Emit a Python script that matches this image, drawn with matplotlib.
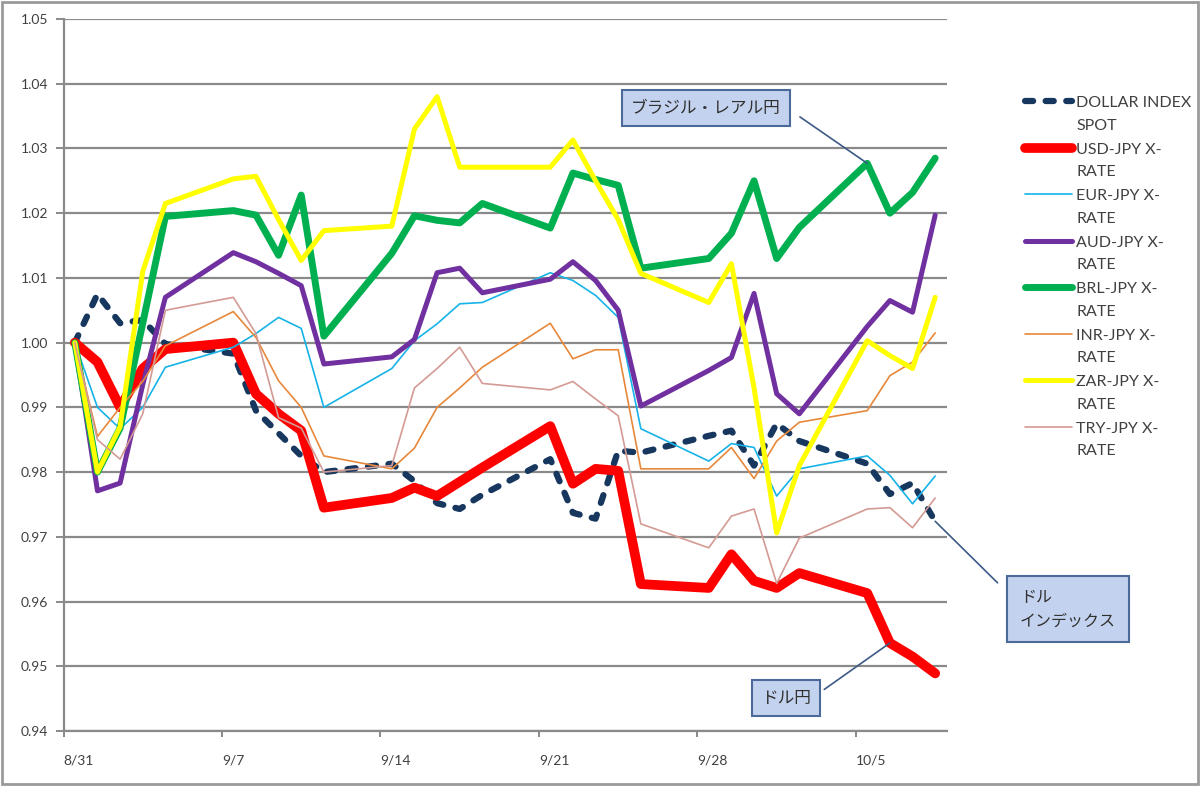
import matplotlib
matplotlib.use("Agg")
import matplotlib.pyplot as plt
import matplotlib.dates as mdates
from matplotlib.patches import Rectangle
from matplotlib.legend_handler import HandlerLine2D
import numpy as np

plt.rcParams['font.family'] = ['Lato', 'Noto Sans CJK JP', 'DejaVu Sans']

dates = ["2009-08-31", "2009-09-01", "2009-09-02", "2009-09-03", "2009-09-04",
         "2009-09-07", "2009-09-08", "2009-09-09", "2009-09-10", "2009-09-11",
         "2009-09-14", "2009-09-15", "2009-09-16", "2009-09-17", "2009-09-18",
         "2009-09-21", "2009-09-22", "2009-09-23", "2009-09-24", "2009-09-25",
         "2009-09-28", "2009-09-29", "2009-09-30", "2009-10-01", "2009-10-02",
         "2009-10-05", "2009-10-06", "2009-10-07", "2009-10-08"]

dollar_index = [1.000, 1.0075, 1.003, 1.0035, 0.9998, 0.9983, 0.9895, 0.986, 0.9825, 0.980,
                0.9813, 0.9786, 0.9752, 0.9743, 0.9765, 0.982, 0.9737, 0.9728, 0.9833, 0.983,
                0.9856, 0.9864, 0.981, 0.9875, 0.9848, 0.9813, 0.9766, 0.9783, 0.9724]
usd_jpy = [1.000, 0.997, 0.990, 0.996, 0.999, 1.000, 0.9921, 0.989, 0.9864, 0.9745,
           0.976, 0.9776, 0.9763, 0.9785, 0.9807, 0.9871, 0.9782, 0.9805, 0.9802, 0.9627,
           0.9621, 0.9673, 0.9632, 0.9621, 0.9644, 0.9613, 0.9536, 0.9515, 0.9489]
eur_jpy = [1.000, 0.990, 0.9867, 0.990, 0.9962, 0.9993, 1.0014, 1.0039, 1.0022, 0.990,
           0.996, 1.0003, 1.0029, 1.006, 1.0062, 1.0108, 1.0096, 1.0073, 1.0039, 0.9867,
           0.9817, 0.9844, 0.9838, 0.9763, 0.9805, 0.9825, 0.9795, 0.9751, 0.9794]
aud_jpy = [1.000, 0.9771, 0.9783, 0.9935, 1.007, 1.0139, 1.0125, 1.0107, 1.0088, 0.9967,
           0.9978, 1.0005, 1.0108, 1.0115, 1.0077, 1.0098, 1.0125, 1.0096, 1.005, 0.9902,
           0.9957, 0.9977, 1.0076, 0.9921, 0.989, 1.0025, 1.0065, 1.0047, 1.0197]
brl_jpy = [1.000, 0.980, 0.9868, 1.003, 1.0195, 1.0204, 1.0197, 1.0135, 1.0228, 1.001,
           1.0138, 1.0196, 1.0189, 1.0185, 1.0215, 1.0177, 1.0262, 1.0252, 1.0243, 1.0115,
           1.013, 1.0169, 1.025, 1.013, 1.0178, 1.0277, 1.020, 1.0232, 1.0285]
inr_jpy = [1.000, 0.9855, 0.990, 0.994, 0.9995, 1.0048, 1.0008, 0.9941, 0.990, 0.9825,
           0.9805, 0.9837, 0.990, 0.993, 0.9962, 1.003, 0.9975, 0.9989, 0.9989, 0.9805,
           0.9805, 0.9838, 0.979, 0.9848, 0.9877, 0.9895, 0.9949, 0.997, 1.0015]
zar_jpy = [1.000, 0.980, 0.987, 1.011, 1.0215, 1.0253, 1.0257, 1.019, 1.0127, 1.0173,
           1.018, 1.033, 1.038, 1.0271, 1.0271, 1.0271, 1.0313, 1.025, 1.019, 1.0107,
           1.0062, 1.0122, 0.993, 0.9706, 0.981, 1.0003, 0.998, 0.996, 1.007]
try_jpy = [1.000, 0.985, 0.982, 0.989, 1.005, 1.007, 1.0014, 0.9884, 0.9868, 0.980,
           0.981, 0.993, 0.996, 0.9993, 0.9937, 0.9927, 0.994, 0.9913, 0.9887, 0.972,
           0.9683, 0.9732, 0.9743, 0.9628, 0.9698, 0.9743, 0.9745, 0.9714, 0.976]

labels = ["DOLLAR INDEX\nSPOT", "USD-JPY X-\nRATE", "EUR-JPY X-\nRATE", "AUD-JPY X-\nRATE",
          "BRL-JPY X-\nRATE", "INR-JPY X-\nRATE", "ZAR-JPY X-\nRATE", "TRY-JPY X-\nRATE"]
tick_dates = ["2009-08-31", "2009-09-07", "2009-09-14", "2009-09-21", "2009-09-28", "2009-10-05"]
tick_labels = ["8/31", "9/7", "9/14", "9/21", "9/28", "10/5"]
y_ticks = [0.94, 0.95, 0.96, 0.97, 0.98, 0.99, 1.00, 1.01, 1.02, 1.03, 1.04, 1.05]

x = mdates.datestr2num(dates) + 0.5

fig = plt.figure(figsize=(12, 7.86), dpi=100)
fig.patch.set_facecolor('white')
ax = fig.add_axes([63.5 / 1200, 55 / 786, (946.5 - 63.5) / 1200, (731 - 19) / 786])

series = [
    (dollar_index, '#17375E', 4.5, 'dash'),
    (usd_jpy, '#FF0000', 7.0, None),
    (eur_jpy, '#17B3E8', 1.2, None),
    (aud_jpy, '#7030A0', 3.6, None),
    (brl_jpy, '#00B050', 5.0, None),
    (inr_jpy, '#E8883A', 1.2, None),
    (zar_jpy, '#FFFF00', 3.6, None),
    (try_jpy, '#D49A94', 1.2, None),
]
handles = []
for i, (vals, col, lw, st) in enumerate(series):
    if st == 'dash':
        ln, = ax.plot(x, vals, color=col, lw=lw, dashes=(1.3, 2.0),
                      dash_capstyle='round', solid_joinstyle='round', zorder=3 + i)
    else:
        ln, = ax.plot(x, vals, color=col, lw=lw, solid_joinstyle='round',
                      solid_capstyle='round', zorder=3 + i)
    handles.append(ln)

ax.set_xlim(mdates.datestr2num("2009-08-31"), mdates.datestr2num("2009-10-09"))
ax.set_ylim(0.94, 1.05)
ax.set_yticks(y_ticks)
ax.set_yticklabels([f"{v:.2f}" for v in y_ticks])
ax.set_xticks(mdates.datestr2num(tick_dates))
ax.set_xticklabels(tick_labels)
ax.grid(axis='y', color='#8A8A8A', lw=1.6, zorder=1)
ax.set_axisbelow(True)
for s in ['top', 'right']:
    ax.spines[s].set_visible(False)
ax.spines['left'].set_color('#8A8A8A')
ax.spines['left'].set_linewidth(1.6)
ax.spines['bottom'].set_color('#8A8A8A')
ax.spines['bottom'].set_linewidth(1.6)
ax.tick_params(axis='y', direction='out', length=6, width=1.4, color='#8A8A8A',
               labelsize=10, labelcolor='#404040', pad=5)
ax.tick_params(axis='x', direction='out', length=4, width=1.4, color='#8A8A8A',
               labelsize=10, labelcolor='#404040', pad=13)
for lab in ax.get_xticklabels():
    lab.set_horizontalalignment('left')


class TopHandler(HandlerLine2D):
    def __init__(self, shift, **kw):
        super().__init__(**kw)
        self.shift = shift

    def create_artists(self, legend, orig_handle, xdescent, ydescent, width, height,
                       fontsize, trans):
        arts = super().create_artists(legend, orig_handle, xdescent, ydescent, width,
                                      height, fontsize, trans)
        for a in arts:
            yd = np.asarray(a.get_ydata(), dtype=float)
            a.set_ydata(yd + self.shift)
        return arts


hmap = {h: TopHandler(9.5) for h in handles}
leg = fig.legend(handles, labels, loc='upper left', bbox_to_anchor=(1011 / 1200, 1 - 82 / 786),
                 frameon=False, fontsize=11.5, handlelength=2.9, handletextpad=0.3,
                 labelspacing=0.62, labelcolor='#404040', handler_map=hmap)
for t in leg.get_texts():
    t.set_linespacing(1.78)

arrow_base = dict(arrowstyle='-', color='#3D5A86', lw=1.2, shrinkB=0)

ax.annotate("ブラジル・レアル円", xy=(x[25], brl_jpy[25]), xycoords='data',
            xytext=(706, 786 - 108), textcoords='figure pixels',
            ha='center', va='center', fontsize=12, color='#303030',
            family=['Noto Sans CJK JP'],
            bbox=dict(boxstyle='square,pad=0.55', fc='#C3D2EE', ec='#4B6A99', lw=1.5),
            arrowprops=dict(arrow_base, relpos=(1.0, 0.75), shrinkA=8), zorder=20)
ax.annotate("ドル\nインデックス", xy=(x[28], dollar_index[28]), xycoords='data',
            xytext=(1020, 786 - 609), textcoords='figure pixels',
            ha='left', va='center', fontsize=11.5, color='#303030', linespacing=1.5,
            family=['Noto Sans CJK JP'],
            bbox=dict(boxstyle='square,pad=0.8', fc='#C3D2EE', ec='#4B6A99', lw=1.5),
            arrowprops=dict(arrow_base, relpos=(0.0, 0.6), shrinkA=9), zorder=20,
            annotation_clip=False)
ax.annotate("ドル円", xy=(x[26], usd_jpy[26]), xycoords='data',
            xytext=(786, 786 - 698), textcoords='figure pixels',
            ha='center', va='center', fontsize=12, color='#303030',
            family=['Noto Sans CJK JP'],
            bbox=dict(boxstyle='square,pad=0.55', fc='#C3D2EE', ec='#4B6A99', lw=1.5),
            arrowprops=dict(arrow_base, relpos=(1.0, 0.45), shrinkA=3), zorder=20)

fig.patches.append(Rectangle((0.002, 0.003), 0.996, 0.994, transform=fig.transFigure,
                             fill=False, ec='#9A9A9A', lw=2))

fig.savefig("out.png", dpi=100)
